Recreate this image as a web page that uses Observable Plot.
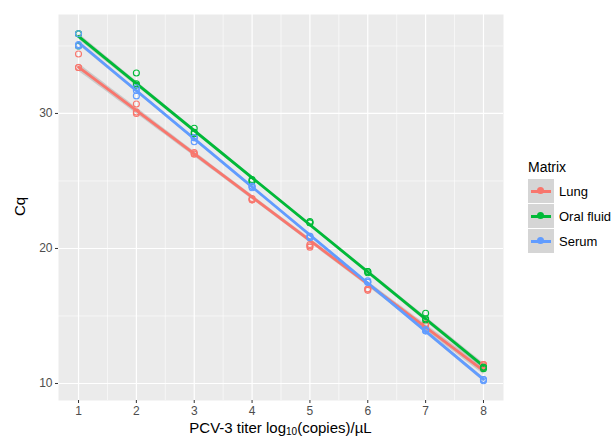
<!DOCTYPE html>
<html><head><meta charset="utf-8">
<script src="https://cdn.jsdelivr.net/npm/d3@7"></script>
<script src="https://cdn.jsdelivr.net/npm/@observablehq/plot@0.6"></script>
<style>
body{margin:0;background:#fff;font-family:"Liberation Sans",Arial,sans-serif;}
#wrap{position:relative;width:613px;height:441px;}
.xt{position:absolute;left:0;width:561px;top:419px;text-align:center;font-size:15px;color:#000;}
.xt sub{font-size:10px;vertical-align:-2px;line-height:0}
.yt{position:absolute;left:2px;top:198px;width:34px;text-align:center;font-size:15px;transform:rotate(-90deg);color:#000}
#legend{position:absolute;left:528px;top:159px;font-size:13px;color:#000}
#legend .title{font-size:14px;margin-bottom:4px;margin-left:0px}
.row{display:flex;align-items:center;height:25px}
.key{width:26px;height:24px;background:#D5D5D5;position:relative;margin-right:5px;border-bottom:1px solid #fff}
.key .ln{position:absolute;left:3px;right:3px;top:11px;height:3px}
.key .pt{position:absolute;left:9px;top:8px;width:7px;height:7px;border-radius:50%}
</style></head>
<body><div id="wrap"></div>
<script>
const matrices = ["Lung", "Oral fluid", "Serum"];
const colors = ["#F8766D", "#00BA38", "#619CFF"];
const titers = [1, 2, 3, 4, 5, 6, 7, 8];
const lungCq = [[34.4,33.4,33.4],[30.7,30.0,30.1],[27.0,27.0,27.1],[23.6,23.7,23.6],[20.2,20.1,20.3],[17.0,16.9,17.0],[14.4,14.3,14.4],[11.4,11.3,11.4]];
const oralCq = [[35.9,35.0,35.9],[33.0,32.1,32.2],[28.9,28.5,28.6],[25.1,25.0,25.0],[22.0,21.9,21.9],[18.3,18.3,18.2],[15.2,14.7,14.8],[11.1,11.2,11.2]];
const serumCq = [[35.9,35.0,35.1],[31.3,31.7,31.9],[27.9,28.2,28.2],[24.6,24.5,24.6],[20.9,20.8,20.9],[17.6,17.5,17.5],[13.9,13.9,14.0],[10.3,10.2,10.3]];
const xTicks = [1,2,3,4,5,6,7,8];
const yTicks = [10,20,30];

const series = [lungCq, oralCq, serumCq];
const data = [];
series.forEach((s, i) => s.forEach((reps, j) => reps.forEach(v => data.push({matrix: matrices[i], titer: titers[j], cq: v}))));

const chart = Plot.plot({
  width: 613, height: 441,
  marginLeft: 58, marginRight: 110, marginTop: 14, marginBottom: 41,
  style: {fontFamily: "Liberation Sans, Arial, sans-serif", background: "#fff"},
  x: {domain: [0.654, 8.346]},
  y: {domain: [8.74, 37.33]},
  color: {domain: matrices, range: colors},
  marks: [
    Plot.frame({fill: "#EBEBEB", stroke: null}),
    Plot.gridX([1.5,2.5,3.5,4.5,5.5,6.5,7.5], {stroke: "#fff", strokeOpacity: 1, strokeWidth: 0.6}),
    Plot.gridY([15,25,35], {stroke: "#fff", strokeOpacity: 1, strokeWidth: 0.6}),
    Plot.gridX(xTicks, {stroke: "#fff", strokeOpacity: 1, strokeWidth: 1.2}),
    Plot.gridY(yTicks, {stroke: "#fff", strokeOpacity: 1, strokeWidth: 1.2}),
    Plot.axisX(xTicks, {tickSize: 3, tickPadding: 3, fontSize: 12, fill: "#4D4D4D", stroke: "#333", label: null}),
    Plot.axisY(yTicks, {tickSize: 3, tickPadding: 3, fontSize: 12, fill: "#4D4D4D", stroke: "#333", label: null}),
    Plot.linearRegressionY(data, {x: "titer", y: "cq", stroke: "matrix", fill: "#999", fillOpacity: 0.4, strokeWidth: 2.8}),
    Plot.dot(data, {x: "titer", y: "cq", stroke: "matrix", r: 3, strokeWidth: 1.1, fill: "none"})
  ]
});
const wrap = document.getElementById("wrap");
wrap.appendChild(chart);
const xt = document.createElement("div"); xt.className = "xt";
xt.innerHTML = "PCV-3 titer log<sub>10</sub>(copies)/µL"; wrap.appendChild(xt);
const yt = document.createElement("div"); yt.className = "yt"; yt.textContent = "Cq"; wrap.appendChild(yt);
const lg = document.createElement("div"); lg.id = "legend";
lg.innerHTML = '<div class="title">Matrix</div>' + matrices.map((m, i) =>
  `<div class="row"><div class="key"><div class="ln" style="background:${colors[i]}"></div><div class="pt" style="background:${colors[i]}"></div></div><span>${m}</span></div>`).join("");
wrap.appendChild(lg);
</script></body></html>
